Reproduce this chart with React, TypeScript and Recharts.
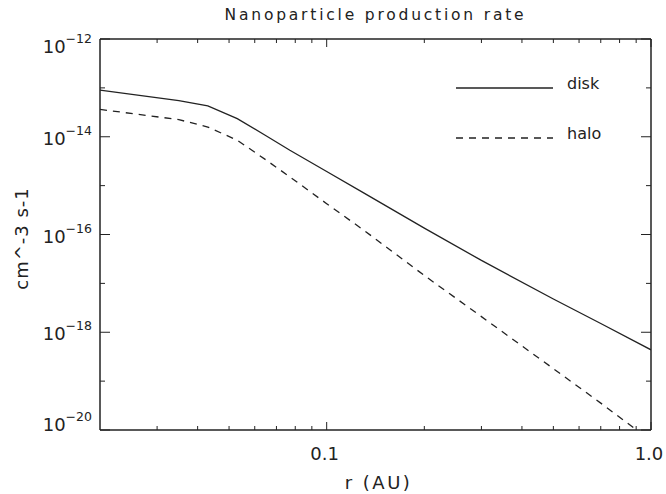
import { LineChart, Line, XAxis, YAxis, Legend } from 'recharts';

const radius = [0.02, 0.035, 0.043, 0.053, 0.065, 0.077, 0.1, 0.13, 0.2, 0.3, 0.5, 0.7, 1.0];
const disk = [9.0e-14, 5.5e-14, 4.27e-14, 2.34e-14, 1.05e-14, 5.3e-15, 1.95e-15, 7.1e-16, 1.35e-16, 2.95e-17, 4.8e-18, 1.51e-18, 4.37e-19];
const halo = [3.63e-14, 2.24e-14, 1.58e-14, 8.5e-15, 3.35e-15, 1.51e-15, 4.27e-16, 1.23e-16, 1.45e-17, 2.09e-18, 1.8e-19, 3.55e-20, 6.0e-21];

const xMajorTicks = [0.1, 1.0];
const xMinorTicks = [0.03, 0.04, 0.05, 0.06, 0.07, 0.08, 0.09, 0.2, 0.3, 0.4, 0.5, 0.6, 0.7, 0.8, 0.9];
const yTicks = [1e-20, 1e-19, 1e-18, 1e-17, 1e-16, 1e-15, 1e-14, 1e-13, 1e-12];
const yLabelled = [-20, -18, -16, -14, -12];

const seriesNames = ['disk', 'halo'];

const data = radius.map((r, i) => ({ r, disk: disk[i], halo: halo[i] }));
const xTicks = [...xMinorTicks, ...xMajorTicks].sort((a, b) => a - b);

const FONT = '"DejaVu Sans", sans-serif';
const INK = '#222';

const isMajorX = (v: number) => xMajorTicks.some((m) => Math.abs(m - v) < 1e-9);
const expOf = (v: number) => Math.round(Math.log10(v));

const BottomTick = (props: any) => {
  const { x, y, payload } = props;
  const major = isMajorX(payload.value);
  return (
    <g>
      <line x1={x} x2={x} y1={y} y2={y - (major ? 8 : 4)} stroke={INK} strokeWidth={1} />
      {major && (
        <text x={x - 2} y={y + 30} textAnchor="middle" fontSize={18} fontFamily={FONT} fill={INK}>
          {payload.value.toFixed(1)}
        </text>
      )}
    </g>
  );
};

const TopTick = (props: any) => {
  const { x, y, payload } = props;
  const major = isMajorX(payload.value);
  return <line x1={x} x2={x} y1={y} y2={y + (major ? 8 : 4)} stroke={INK} strokeWidth={1} />;
};

const LeftTick = (props: any) => {
  const { x, y, payload } = props;
  const e = expOf(payload.value);
  const major = yLabelled.includes(e);
  // IDL nudges the end labels inside the axis range
  const dy = e === -12 ? 14 : e === -20 ? 1 : 8;
  return (
    <g>
      <line x1={x} x2={x + (major ? 10 : 5)} y1={y} y2={y} stroke={INK} strokeWidth={1} />
      {major && (
        <text x={x - 8} y={y + dy} textAnchor="end" fontSize={18} fontFamily={FONT} fill={INK}>
          10
          <tspan dy={-10} fontSize={12.5}>{'\u2212' + Math.abs(e)}</tspan>
        </text>
      )}
    </g>
  );
};

const RightTick = (props: any) => {
  const { x, y, payload } = props;
  const major = yLabelled.includes(expOf(payload.value));
  return <line x1={x} x2={x - (major ? 10 : 5)} y1={y} y2={y} stroke={INK} strokeWidth={1} />;
};

const LegendBox = () => (
  <div style={{ fontFamily: FONT, color: INK }}>
    {seriesNames.map((name, i) => (
      <div key={name} style={{ display: 'flex', alignItems: 'center', height: 24, marginBottom: 26 }}>
        <svg width={97} height={24}>
          <line x1={0} x2={97} y1={12} y2={12} stroke={INK} strokeWidth={1.3} strokeDasharray={i === 1 ? '7 6' : undefined} />
        </svg>
        <span style={{ marginLeft: 14, fontSize: 16, position: 'relative', top: -5 }}>{name}</span>
      </div>
    ))}
  </div>
);

export default function App() {
  return (
    <div style={{ position: 'absolute', left: 0, top: 0, width: 666, height: 494, background: '#fff' }}>
      <LineChart width={666} height={494} data={data} margin={{ top: 38, right: 14, bottom: 0, left: 0 }}>
        <XAxis
          dataKey="r"
          type="number"
          scale="log"
          domain={[0.02, 1]}
          allowDataOverflow
          ticks={xTicks}
          interval={0}
          height={64}
          tickSize={0}
          tickMargin={0}
          tickLine={false}
          tick={BottomTick}
          axisLine={{ stroke: INK, strokeWidth: 1.5 }}
          label={{
            content: (p: any) => (
              <text x={p.viewBox.x + p.viewBox.width / 2 + 3} y={p.viewBox.y + 59} textAnchor="middle" fontSize={18} fontFamily={FONT} fill={INK} letterSpacing={2.5}>
                r (AU)
              </text>
            ),
          }}
        />
        <XAxis
          xAxisId="top"
          orientation="top"
          dataKey="r"
          type="number"
          scale="log"
          domain={[0.02, 1]}
          allowDataOverflow
          ticks={xTicks}
          interval={0}
          height={1}
          tickSize={0}
          tickMargin={0}
          tickLine={false}
          tick={TopTick}
          axisLine={{ stroke: INK, strokeWidth: 1.5 }}
          label={{
            content: (p: any) => (
              <text x={p.viewBox.x + p.viewBox.width / 2} y={20} textAnchor="middle" fontSize={15.5} fontFamily={FONT} fill={INK} letterSpacing={2.8}>
                Nanoparticle production rate
              </text>
            ),
          }}
        />
        <YAxis
          type="number"
          scale="log"
          domain={[1e-20, 1e-12]}
          allowDataOverflow
          ticks={yTicks}
          interval={0}
          width={100}
          tickSize={0}
          tickMargin={0}
          tickLine={false}
          tick={LeftTick}
          axisLine={{ stroke: INK, strokeWidth: 1.5 }}
          label={{
            content: (p: any) => {
              const cy = p.viewBox.y + p.viewBox.height / 2 + 4;
              return (
                <text x={28} y={cy} transform={`rotate(-90, 28, ${cy})`} textAnchor="middle" fontSize={18} fontFamily={FONT} fill={INK} letterSpacing={1}>
                  cm^-3 s-1
                </text>
              );
            },
          }}
        />
        <YAxis
          yAxisId="right"
          orientation="right"
          type="number"
          scale="log"
          domain={[1e-20, 1e-12]}
          allowDataOverflow
          ticks={yTicks}
          interval={0}
          width={1}
          tickSize={0}
          tickMargin={0}
          tickLine={false}
          tick={RightTick}
          axisLine={{ stroke: INK, strokeWidth: 1.5 }}
        />
        <Legend
          layout="horizontal"
          verticalAlign="middle"
          align="center"
          content={LegendBox}
          wrapperStyle={{ left: 456, top: 76, width: 160, height: 80 }}
        />
        <Line type="linear" dataKey="disk" name="disk" stroke={INK} strokeWidth={1.3} dot={false} isAnimationActive={false} />
        <Line type="linear" dataKey="halo" name="halo" stroke={INK} strokeWidth={1.3} strokeDasharray="7 6" dot={false} isAnimationActive={false} />
      </LineChart>
    </div>
  );
}
